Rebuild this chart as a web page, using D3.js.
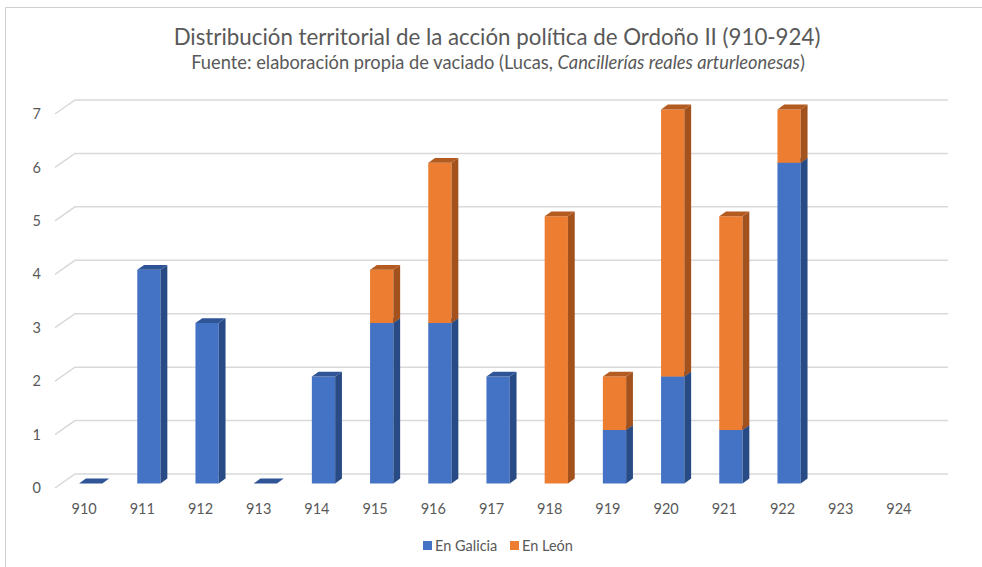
<!DOCTYPE html>
<html>
<head>
<meta charset="utf-8">
<script src="https://cdn.jsdelivr.net/npm/d3@7"></script>
<style>
  body { margin: 0; background: #fff; }
  svg { font-family: Lato, "Open Sans", sans-serif; }
</style>
</head>
<body>
<div class="chart"></div>
<script>
var years = ["910","911","912","913","914","915","916","917","918","919","920","921","922","923","924"];
var galicia = [0, 4, 3, 0, 2, 3, 3, 2, 0, 1, 2, 1, 6, null, null];
var leon    = [0, 0, 0, 0, 0, 1, 3, 0, 5, 1, 5, 4, 1, null, null];
var yTicks = [0, 1, 2, 3, 4, 5, 6, 7];
var seriesNames = ["En Galicia", "En León"];

var svgWidth = 982, svgHeight = 567;

// oblique depth of the floor (back wall offset)
var depthX = 20, depthY = 14;

var svg = d3.select(".chart").append("svg")
    .attr("width", svgWidth)
    .attr("height", svgHeight);

// frame
svg.append("path")
    .attr("d", "M5.5,567 L5.5,7.5 L982,7.5")
    .attr("fill", "none")
    .attr("stroke", "#d0d0d0")
    .attr("stroke-width", 1);

var x = d3.scaleBand().domain(years).range([55, 928]);
var y = d3.scaleLinear().domain([0, 7]).range([488, 114]);

// project a point on the front plane into depth z (0..1)
function p(px, py, z) {
    return [px + depthX * z, py - depthY * z];
}

// gridlines: left side diagonal + back wall line
var grid = svg.append("g");
yTicks.forEach(function(t) {
    var a = p(x.range()[0], y(t), 0), b = p(x.range()[0], y(t), 1), c = p(x.range()[1], y(t), 1);
    grid.append("path")
        .attr("d", "M" + a + "L" + b + "L" + c)
        .attr("fill", "none")
        .attr("stroke", "#d9d9d9")
        .attr("stroke-width", 1.5);
});

// y tick labels
svg.append("g").selectAll("text")
    .data(yTicks)
    .enter().append("text")
    .attr("x", 41)
    .attr("y", function(d) { return y(d); })
    .attr("dy", "0.35em")
    .attr("text-anchor", "end")
    .attr("font-size", 14.5)
    .attr("fill", "#595959")
    .text(function(d) { return d; });

// x tick labels
svg.append("g").selectAll("text")
    .data(years)
    .enter().append("text")
    .attr("x", function(d) { return x(d) + x.bandwidth() / 2; })
    .attr("y", 514)
    .attr("text-anchor", "middle")
    .attr("font-size", 14.5)
    .attr("fill", "#595959")
    .text(function(d) { return d; });

var colors = [
    { front: "#4472c4", side: "#284b85", top: "#2f5597" },
    { front: "#ed7d31", side: "#a3521e", top: "#b35b21" }
];

var z0 = 0.33, z1 = 0.67;
var barW = x.bandwidth() * 0.4;

function poly(pts) { return "M" + pts.join("L") + "Z"; }

var bars = svg.append("g");
years.forEach(function(yr, i) {
    if (galicia[i] == null) return;
    var total = galicia[i] + leon[i];
    var segs = [[0, galicia[i], 0], [galicia[i], total, 1]];
    var xl = x(yr) + (x.bandwidth() - barW) / 2, xr = xl + barW;
    segs.forEach(function(s, k) {
        var lo = s[0], hi = s[1], c = colors[s[2]];
        if (hi - lo === 0 && !(k === 0 && total === 0)) return;
        var yl = y(lo), yh = y(hi);
        // front
        bars.append("path")
            .attr("d", poly([p(xl, yl, z0), p(xr, yl, z0), p(xr, yh, z0), p(xl, yh, z0)]))
            .attr("fill", c.front);
        // side
        bars.append("path")
            .attr("d", poly([p(xr, yl, z0), p(xr, yl, z1), p(xr, yh, z1), p(xr, yh, z0)]))
            .attr("fill", c.side);
        // top
        bars.append("path")
            .attr("d", poly([p(xl, yh, z0), p(xr, yh, z0), p(xr, yh, z1), p(xl, yh, z1)]))
            .attr("fill", c.top);
    });
});

// title
svg.append("text")
    .attr("x", 497)
    .attr("y", 45)
    .attr("text-anchor", "middle")
    .attr("font-size", 22.3)
    .attr("fill", "#595959")
    .text("Distribución territorial de la acción política de Ordoño II (910-924)");

var sub = svg.append("text")
    .attr("x", 498)
    .attr("y", 69)
    .attr("text-anchor", "middle")
    .attr("font-size", 18.3)
    .attr("fill", "#595959");
sub.append("tspan").text("Fuente: elaboración propia de vaciado (Lucas, ");
sub.append("tspan").attr("font-style", "italic").text("Cancillerías reales arturleonesas");
sub.append("tspan").text(")");

// legend
var legend = svg.append("g");
var lx = [423, 510];
seriesNames.forEach(function(n, i) {
    legend.append("rect")
        .attr("x", lx[i]).attr("y", 541)
        .attr("width", 9).attr("height", 9)
        .attr("fill", colors[i].front);
    legend.append("text")
        .attr("x", lx[i] + 12).attr("y", 551)
        .attr("font-size", 14.5)
        .attr("fill", "#595959")
        .text(n);
});
</script>
</body>
</html>
